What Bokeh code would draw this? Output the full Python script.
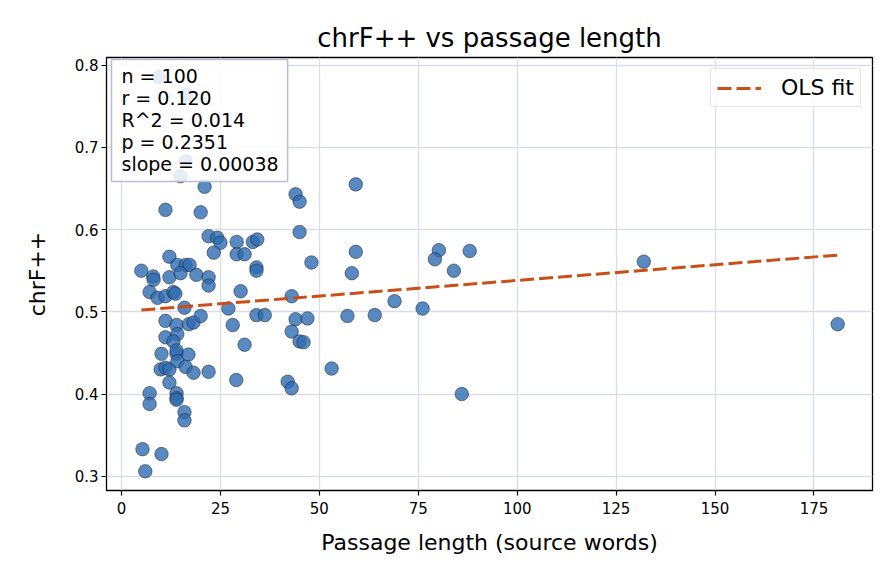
from bokeh.plotting import figure
from bokeh.models import Range1d, FixedTicker, Label, Legend, LegendItem, ColumnDataSource
from bokeh.embed import file_html
from bokeh.resources import INLINE

# ---- data ----
passage_len = [
    9.4, 16.4, 16.2, 14.9, 21.0, 11.1, 20.0, 22.0, 24.2, 25.0,
    23.3, 29.1, 29.1, 31.1, 33.2, 34.3, 34.1, 34.1, 44.0, 45.0,
    45.0, 59.2, 59.2, 48.0, 58.2, 80.2, 79.2, 88.0, 84.0, 43.0,
    69.0, 76.1, 34.1, 36.2, 44.0, 47.0, 57.1, 64.0, 43.0, 45.0,
    46.0, 53.1, 42.0, 43.0, 86.0, 132.0, 181.0, 12.1, 14.1, 16.2,
    17.2, 5.0, 8.0, 8.1, 12.1, 14.9, 18.9, 22.0, 22.0, 7.1,
    9.1, 11.1, 13.1, 13.6, 30.1, 15.9, 27.0, 11.1, 13.9, 17.0,
    18.2, 20.0, 28.1, 11.1, 14.1, 13.1, 10.1, 13.9, 13.9, 16.9,
    31.1, 9.9, 11.1, 12.1, 14.1, 16.2, 18.2, 22.0, 12.1, 7.1,
    7.1, 13.9, 13.9, 13.9, 15.9, 15.9, 5.3, 10.1, 6.0, 29.0,
]
chrf = [
    0.786, 0.764, 0.683, 0.665, 0.652, 0.624, 0.621, 0.592, 0.590, 0.584,
    0.572, 0.585, 0.570, 0.570, 0.585, 0.588, 0.554, 0.550, 0.643, 0.634,
    0.597, 0.655, 0.573, 0.560, 0.547, 0.575, 0.564, 0.574, 0.550, 0.519,
    0.513, 0.504, 0.496, 0.496, 0.491, 0.492, 0.495, 0.496, 0.476, 0.464,
    0.463, 0.431, 0.415, 0.407, 0.400, 0.561, 0.485, 0.567, 0.557, 0.557,
    0.557, 0.550, 0.543, 0.539, 0.542, 0.547, 0.545, 0.542, 0.532, 0.524,
    0.517, 0.519, 0.524, 0.522, 0.525, 0.505, 0.504, 0.489, 0.484, 0.485,
    0.487, 0.495, 0.484, 0.469, 0.473, 0.464, 0.449, 0.449, 0.453, 0.448,
    0.460, 0.430, 0.432, 0.430, 0.440, 0.433, 0.426, 0.427, 0.414, 0.401,
    0.388, 0.401, 0.395, 0.393, 0.378, 0.368, 0.333, 0.327, 0.306, 0.417,
]
fit_x = [5, 181]
fit_y = [0.5021, 0.5690]
x_ticks = [0, 25, 50, 75, 100, 125, 150, 175]
y_ticks = [0.3, 0.4, 0.5, 0.6, 0.7, 0.8]
stats_lines = ["n = 100", "r = 0.120", "R^2 = 0.014", "p = 0.2351", "slope = 0.00038"]

FONT = "DejaVu Sans"

p = figure(width=896, height=584, output_backend="svg", toolbar_location=None,
           x_range=Range1d(-3.8, 189.8), y_range=Range1d(0.2827, 0.8093),
           min_border_left=106, min_border_right=24, min_border_top=57, min_border_bottom=94)
p.background_fill_color = "white"
p.border_fill_color = "white"
p.outline_line_color = "black"
p.outline_line_width = 1.3

p.title.text = "chrF++ vs passage length"
p.title.align = "center"
p.title.text_font = FONT
p.title.text_font_size = "26px"
p.title.text_font_style = "normal"
p.title.text_color = "black"

for ax in (p.xaxis[0], p.yaxis[0]):
    ax.axis_line_color = None
    ax.major_tick_line_color = "black"
    ax.major_tick_line_width = 1.2
    ax.major_tick_out = 5
    ax.major_tick_in = 0
    ax.minor_tick_line_color = None
    ax.major_label_text_font = FONT
    ax.major_label_text_font_size = "15px"
    ax.major_label_text_color = "black"
    ax.axis_label_text_font = FONT
    ax.axis_label_text_font_size = "22px"
    ax.axis_label_text_font_style = "normal"
    ax.axis_label_text_color = "black"

p.xaxis.ticker = FixedTicker(ticks=x_ticks)
p.yaxis.ticker = FixedTicker(ticks=y_ticks)
p.xaxis.major_label_overrides = {t: str(t) for t in x_ticks}
p.yaxis.major_label_overrides = {t: f"{t:.1f}" for t in y_ticks}
p.xaxis.axis_label = "Passage length (source words)"
p.yaxis.axis_label = "chrF++"
p.xaxis.major_label_standoff = 6
p.yaxis.major_label_standoff = 3
p.xaxis.axis_label_standoff = 13
p.yaxis.axis_label_standoff = 22

p.xgrid.ticker = FixedTicker(ticks=x_ticks)
p.ygrid.ticker = FixedTicker(ticks=y_ticks)
p.grid.grid_line_color = "#d8dee8"
p.grid.grid_line_width = 1.3

src = ColumnDataSource(dict(x=passage_len, y=chrf))
p.scatter("x", "y", source=src, size=13.5, fill_color="#2e6bb0", fill_alpha=0.8,
          line_color="#1c2636", line_width=0.6, line_alpha=0.9)

fit = p.line(fit_x, fit_y, line_color="#c94f17", line_width=3, line_dash="14 5")

legend = Legend(items=[LegendItem(label="OLS fit", renderers=[fit])],
                location="top_right", label_text_font=FONT, label_text_font_size="22px",
                glyph_width=44, border_line_color="#cccccc", border_line_width=1,
                background_fill_alpha=0.8, margin=11, padding=6, spacing=0,
                label_standoff=20, label_text_color="black")
p.add_layout(legend)

stats = Label(x=-3.8, y=0.8093, text="\n".join(stats_lines), text_font=FONT,
              text_font_size="19px", text_align="left", text_baseline="top",
              x_offset=5, y_offset=-2, background_fill_color="white",
              background_fill_alpha=0.85, border_line_color="#b4c0cf",
              border_line_width=1.5, text_line_height=1.0,
              padding=dict(left=10, right=9, top=5, bottom=7), text_color="black")
p.add_layout(stats)

open("out.html", "w").write(file_html(p, INLINE))
